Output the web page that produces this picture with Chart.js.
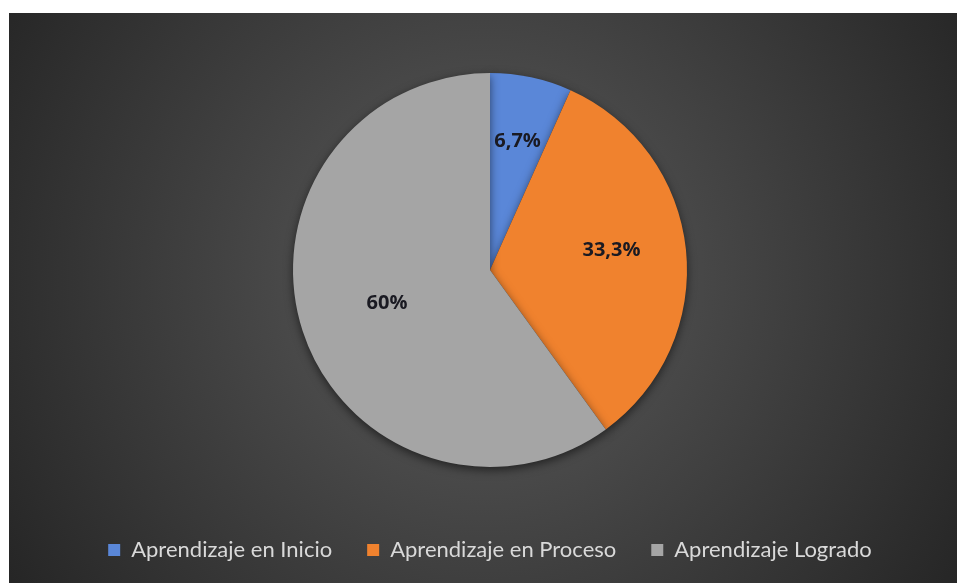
<!DOCTYPE html>
<html lang="es">
<head>
    <meta charset="UTF-8">
    <title>Aprendizaje</title>
    <script src="https://cdn.jsdelivr.net/npm/chart.js"></script>
    <style>
        body {
            margin: 0;
            background: #fff;
        }
        .chart-box {
            width: 957px;
            height: 583px;
        }
    </style>
</head>
<body>
    <div class="chart-box">
        <canvas id="pieChart"></canvas>
    </div>

    <script>
        const categories = ['Aprendizaje en Inicio', 'Aprendizaje en Proceso', 'Aprendizaje Logrado'];
        const values = [6.7, 33.3, 60];
        const valueLabels = ['6,7%', '33,3%', '60%'];
        const sliceColors = ['#5a87d8', '#f0822e', '#a5a5a5'];

        // dark panel with radial shading behind everything
        const panel = {
            id: 'panel',
            beforeDraw(chart) {
                const ctx = chart.ctx;
                ctx.save();
                ctx.fillStyle = '#ffffff';
                ctx.fillRect(0, 0, chart.width, chart.height);
                const g = ctx.createRadialGradient(485, 280, 20, 485, 280, 560);
                g.addColorStop(0, '#5a5a5a');
                g.addColorStop(1, '#262626');
                ctx.fillStyle = g;
                ctx.fillRect(9, 13, chart.width - 9, chart.height - 13);
                ctx.restore();
            }
        };

        // soft shadow under the pie
        const pieShadow = {
            id: 'pieShadow',
            beforeDatasetsDraw(chart) {
                const ctx = chart.ctx;
                ctx.save();
                ctx.shadowColor = 'rgba(0,0,0,0.55)';
                ctx.shadowBlur = 10;
                ctx.shadowOffsetY = 3;
            },
            afterDatasetsDraw(chart) {
                chart.ctx.restore();
            }
        };

        // percentage labels inside slices
        const labelDist = [0.67, 0.62, 0.55];
        const sliceLabels = {
            id: 'sliceLabels',
            afterDatasetsDraw(chart) {
                const ctx = chart.ctx;
                ctx.save();
                ctx.font = 'bold 20px "Open Sans", sans-serif';
                ctx.fillStyle = '#1a1a22';
                ctx.textAlign = 'center';
                ctx.textBaseline = 'middle';
                chart.getDatasetMeta(0).data.forEach((arc, i) => {
                    const p = arc.getProps(['x', 'y', 'startAngle', 'endAngle', 'outerRadius']);
                    const mid = (p.startAngle + p.endAngle) / 2;
                    const r = p.outerRadius * labelDist[i];
                    let y = p.y + Math.sin(mid) * r;
                    if (i === 1) y -= 7;
                    ctx.fillText(valueLabels[i], p.x + Math.cos(mid) * r, y);
                });
                ctx.restore();
            }
        };

        new Chart(document.getElementById('pieChart'), {
            type: 'pie',
            data: {
                labels: categories,
                datasets: [{
                    data: values,
                    backgroundColor: sliceColors,
                    borderWidth: 0
                }]
            },
            options: {
                responsive: true,
                maintainAspectRatio: false,
                animation: false,
                radius: 197,
                layout: {
                    padding: { top: 36, bottom: 12, left: 33, right: 10 }
                },
                plugins: {
                    tooltip: { enabled: false },
                    legend: {
                        position: 'bottom',
                        labels: {
                            color: '#d9d9d9',
                            boxWidth: 12,
                            boxHeight: 12,
                            padding: 35,
                            font: { family: 'Lato', size: 22 }
                        }
                    }
                }
            },
            plugins: [panel, pieShadow, sliceLabels]
        });
    </script>
</body>
</html>
